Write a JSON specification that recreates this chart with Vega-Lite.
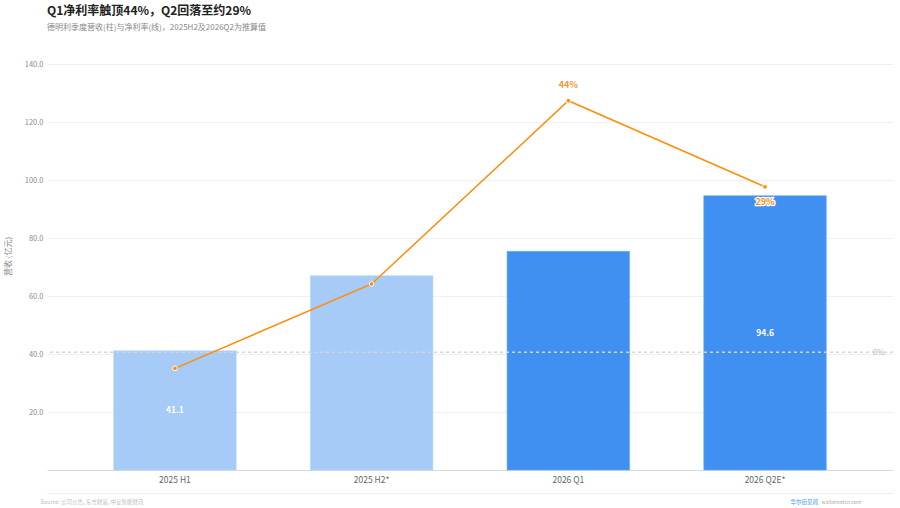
{
  "$schema": "https://vega.github.io/schema/vega-lite/v6.json",
  "width": 846,
  "height": 406,
  "autosize": {"type": "none"},
  "padding": {"left": 47, "top": 64, "right": 7, "bottom": 38},
  "background": "white",
  "config": {"font": "Noto Sans CJK SC", "view": {"stroke": null}},
  "title": {
    "text": "Q1净利率触顶44%，Q2回落至约29%",
    "subtitle": "德明利季度营收(柱)与净利率(线)，2025H2及2026Q2为推算值",
    "anchor": "start",
    "frame": "group",
    "offset": 27,
    "fontSize": 12,
    "fontWeight": "bold",
    "color": "#222222",
    "subtitleFontSize": 8,
    "subtitleColor": "#888888",
    "subtitlePadding": 6
  },
  "data": {
    "values": [
      {"period": "2025 H1", "year": "2025", "revenue": 41.1, "revenue_label": "41.1", "margin": -2.8, "margin_label": null},
      {"period": "2025 H2*", "year": "2025", "revenue": 67.0, "revenue_label": null, "margin": 11.9, "margin_label": null},
      {"period": "2026 Q1", "year": "2026", "revenue": 75.4, "revenue_label": null, "margin": 43.8, "margin_label": "44%"},
      {"period": "2026 Q2E*", "year": "2026", "revenue": 94.6, "revenue_label": "94.6", "margin": 28.8, "margin_label": "29%"}
    ]
  },
  "layer": [
    {
      "encoding": {
        "x": {
          "field": "period",
          "type": "nominal",
          "sort": null,
          "scale": {"paddingInner": 0.377, "paddingOuter": 0.339},
          "axis": {
            "title": "Source: 公司公告, 东方财富, 中证智能财讯",
            "labelAngle": 0,
            "labelFontSize": 8.5,
            "labelColor": "#666666",
            "labelPadding": 5,
            "ticks": false,
            "tickSize": 0,
            "domainColor": "#d9d9d9",
            "titleFontSize": 5.5,
            "titleFontWeight": "normal",
            "titleColor": "#bbbbbb",
            "titleAnchor": "start",
            "titleAlign": "left",
            "titleBaseline": "middle",
            "titleX": -7,
            "titleY": 31
          }
        }
      },
      "layer": [
        {
          "mark": {"type": "bar", "strokeWidth": 1, "strokeOpacity": 0.6},
          "encoding": {
            "y": {
              "field": "revenue",
              "type": "quantitative",
              "title": "营收 (亿元)",
              "scale": {"domain": [0, 140], "nice": false},
              "axis": {
                "values": [20, 40, 60, 80, 100, 120, 140],
                "format": ".1f",
                "labelFontSize": 7.5,
                "labelColor": "#8c8c8c",
                "labelPadding": 4,
                "ticks": false,
                "tickSize": 0,
                "domain": false,
                "gridColor": "#f0f0f0",
                "gridWidth": 1,
                "titleFontSize": 8,
                "titleFontWeight": "normal",
                "titleColor": "#888888",
                "titleAngle": -90,
                "titleAlign": "center",
                "titleBaseline": "middle",
                "titleX": -39,
                "titleY": 192
              }
            },
            "color": {
              "field": "year",
              "type": "nominal",
              "scale": {"domain": ["2025", "2026"], "range": ["#a6cbf6", "#4090f2"]},
              "legend": null
            },
            "stroke": {
              "field": "year",
              "type": "nominal",
              "scale": {"domain": ["2025", "2026"], "range": ["#b8d6f8", "#6aa8f5"]},
              "legend": null
            }
          }
        },
        {
          "transform": [
            {"filter": "datum.revenue_label != null"},
            {"calculate": "datum.revenue / 2", "as": "mid"}
          ],
          "mark": {"type": "text", "color": "white", "fontSize": 8.5, "fontWeight": "bold", "baseline": "middle"},
          "encoding": {
            "y": {"field": "mid", "type": "quantitative", "title": "营收 (亿元)"},
            "text": {"field": "revenue_label"}
          }
        }
      ]
    },
    {
      "encoding": {
        "x": {
          "field": "period",
          "type": "nominal",
          "sort": null,
          "scale": {"paddingInner": 0.377, "paddingOuter": 0.339},
          "axis": {
            "orient": "bottom",
            "offset": 23,
            "labels": false,
            "ticks": false,
            "tickSize": 0,
            "domainColor": "#eeeeee",
            "title": "wallstreetcn.com",
            "titleFontSize": 5,
            "titleFontWeight": "normal",
            "titleColor": "#aaaaaa",
            "titleAnchor": "start",
            "titleAlign": "left",
            "titleBaseline": "middle",
            "titleX": 774,
            "titleY": 8
          }
        }
      },
      "layer": [
        {
          "mark": {"type": "rule", "color": "#d6d6d6", "strokeDash": [3, 3], "strokeWidth": 0.7},
          "encoding": {
            "x": null,
            "y": {"datum": 0, "type": "quantitative", "title": "华尔街见闻"}
          }
        },
        {
          "mark": {"type": "line", "color": "#ff8c0a", "strokeWidth": 1.5},
          "encoding": {
            "y": {
              "field": "margin",
              "type": "quantitative",
              "title": "华尔街见闻",
              "scale": {"domain": [-20.5, 50.2], "nice": false, "zero": false},
              "axis": {
                "orient": "right",
                "values": [0],
                "labelExpr": "datum.value + '%'",
                "labelAlign": "right",
                "labelBaseline": "middle",
                "labelPadding": -9,
                "labelFontSize": 8,
                "labelColor": "#bbbbbb",
                "ticks": false,
                "tickSize": 0,
                "domain": false,
                "grid": false,
                "titleFontSize": 5.5,
                "titleFontWeight": "normal",
                "titleColor": "#3f8ff2",
                "titleAngle": 0,
                "titleAlign": "left",
                "titleBaseline": "middle",
                "titleX": -103,
                "titleY": 437
              }
            }
          }
        },
        {
          "mark": {"type": "circle", "color": "#ff8c0a", "size": 22, "opacity": 1, "stroke": "white", "strokeWidth": 1},
          "encoding": {
            "y": {"field": "margin", "type": "quantitative", "title": "华尔街见闻"}
          }
        },
        {
          "transform": [{"filter": "datum.period == '2026 Q1'"}],
          "mark": {"type": "text", "color": "#f39a30", "fontSize": 9, "fontWeight": "bold", "baseline": "middle", "dy": -16},
          "encoding": {
            "y": {"field": "margin", "type": "quantitative", "title": "华尔街见闻"},
            "text": {"field": "margin_label"}
          }
        },
        {
          "transform": [{"filter": "datum.period == '2026 Q2E*'"}],
          "mark": {"type": "text", "color": "white", "stroke": "white", "strokeWidth": 2.5, "fontSize": 9, "fontWeight": "bold", "baseline": "middle", "dy": 15},
          "encoding": {
            "y": {"field": "margin", "type": "quantitative", "title": "华尔街见闻"},
            "text": {"field": "margin_label"}
          }
        },
        {
          "transform": [{"filter": "datum.period == '2026 Q2E*'"}],
          "mark": {"type": "text", "color": "#ff8c0a", "fontSize": 9, "fontWeight": "bold", "baseline": "middle", "dy": 15},
          "encoding": {
            "y": {"field": "margin", "type": "quantitative", "title": "华尔街见闻"},
            "text": {"field": "margin_label"}
          }
        }
      ]
    }
  ],
  "resolve": {"scale": {"y": "independent"}, "axis": {"x": "independent"}}
}
